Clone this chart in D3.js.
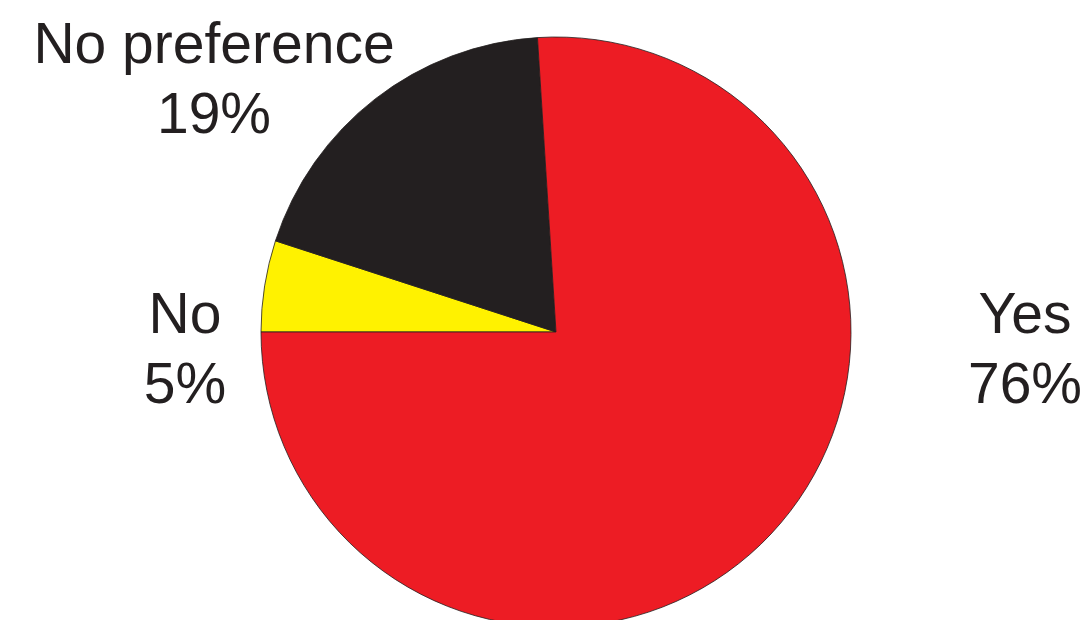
<!DOCTYPE html>
<html>
<head>
<meta charset="utf-8">
<script src="https://cdn.jsdelivr.net/npm/d3@7"></script>
<style>
	body { margin: 0; background: #fff; }
	text { font-family: "Liberation Sans", Arial, Helvetica, sans-serif; fill: #231f20; }
</style>
</head>
<body>
<div class="pie-chart"></div>
<script>
var categories = ["No", "No preference", "Yes"];
var values = [5, 19, 76];
var colors = ["#fff200", "#231f20", "#ed1c24"];

var width = 1089, height = 620;
var cx = 556, cy = 332, r = 295;

var svg = d3.select(".pie-chart").append("svg")
	.attr("width", width)
	.attr("height", height);

var data = categories.map(function(c, i){ return {name: c, value: values[i]}; });

var pie = d3.pie()
	.sort(null)
	.value(d => d.value)
	.startAngle(Math.PI * 1.5)
	.endAngle(Math.PI * 3.5);

var arc = d3.arc().innerRadius(0).outerRadius(r);

var color = d3.scaleOrdinal().domain(categories).range(colors);

var g = svg.append("g").attr("transform", "translate(" + cx + "," + cy + ")");

g.selectAll("path")
	.data(pie(data))
	.join("path")
	.attr("d", arc)
	.attr("fill", d => color(d.data.name))
	.attr("stroke", "#231f20")
	.attr("stroke-width", 0.8);

// label positions, absolute in the page
var labelPos = {
	"No": [185, 333],
	"No preference": [214, 63],
	"Yes": [1025, 333]
};

data.forEach(function(d){
	var p = labelPos[d.name];
	var t = svg.append("text")
		.attr("text-anchor", "middle")
		.attr("font-size", 57)
		.attr("x", p[0])
		.attr("y", p[1]);
	t.append("tspan").attr("x", p[0]).text(d.name);
	t.append("tspan").attr("x", p[0]).attr("dy", 70).text(d.value + "%");
});
</script>
</body>
</html>
